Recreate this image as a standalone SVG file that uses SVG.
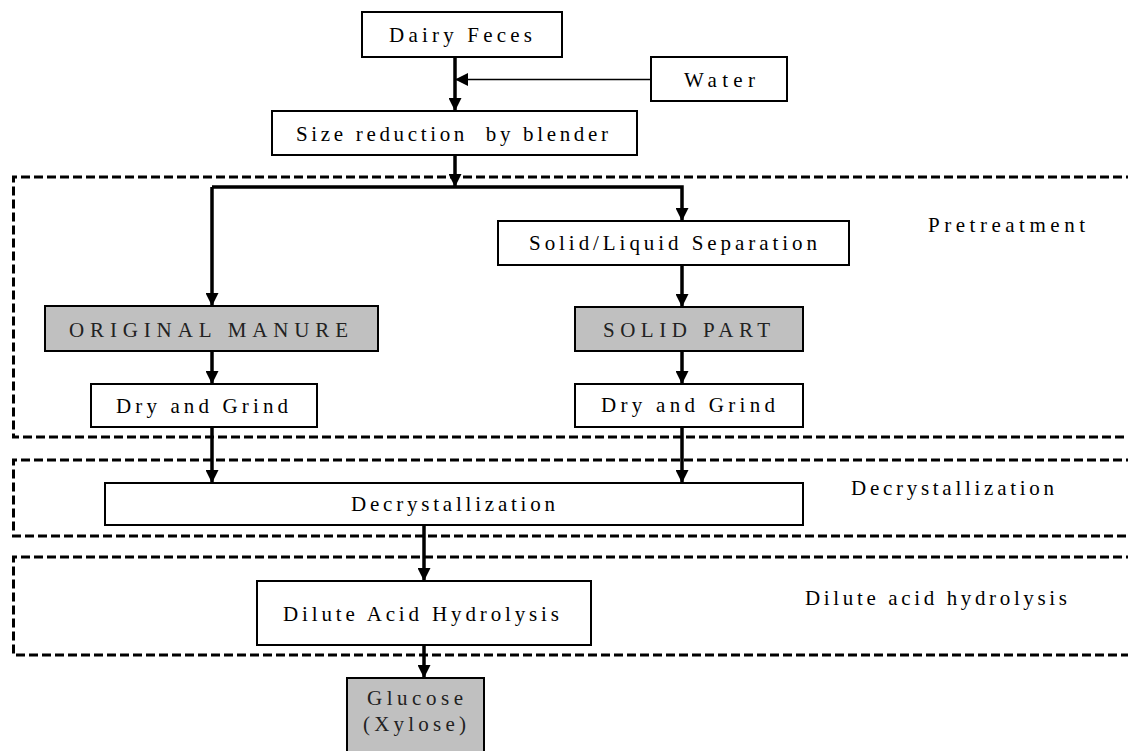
<svg xmlns="http://www.w3.org/2000/svg" width="1128" height="751" viewBox="0 0 1128 751">
<style>
.box{fill:#fff;stroke:#000;stroke-width:2}
.gray{fill:#c0c0c0;stroke:#000;stroke-width:2}
.t{font-family:"Liberation Serif","Times New Roman",serif;font-size:21px;fill:#000}
.gt{fill:#222}
.zone{fill:none;stroke:#000;stroke-width:3;stroke-dasharray:9,4}
.c{fill:none;stroke:#000;stroke-width:3.5}
.thin{fill:none;stroke:#000;stroke-width:1.6}
</style>
<defs>
<marker id="ah" viewBox="0 0 10 10" refX="10" refY="5" markerUnits="userSpaceOnUse" markerWidth="13" markerHeight="13" orient="auto">
<path d="M0,0 L10,5 L0,10 Z" fill="#000"/>
</marker>
</defs>
<rect width="1128" height="751" fill="#fff"/>
<g id="zones">
<path class="zone" d="M1135,177 H13.5 V437 H1135"/>
<path class="zone" d="M1135,460 H13.5 V536 H1135"/>
<path class="zone" d="M1135,557 H13.5 V655 H1135"/>
<text class="t" x="928" y="232" textLength="157" lengthAdjust="spacing">Pretreatment</text>
<text class="t" x="851" y="495" textLength="203" lengthAdjust="spacing">Decrystallization</text>
<text class="t" x="805" y="605" textLength="262" lengthAdjust="spacing">Dilute acid hydrolysis</text>
</g>
<g id="connectors">
<line class="c" x1="455" y1="57" x2="455" y2="111" marker-end="url(#ah)"/>
<line class="thin" x1="651" y1="79.5" x2="455" y2="79.5" marker-end="url(#ah)"/>
<line class="c" x1="455" y1="155" x2="455" y2="187" marker-end="url(#ah)"/>
<polyline class="c" points="212,187 682,187 682,221" marker-end="url(#ah)"/>
<line class="c" x1="212" y1="187" x2="212" y2="306" marker-end="url(#ah)"/>
<line class="c" x1="682" y1="265" x2="682" y2="307" marker-end="url(#ah)"/>
<line class="c" x1="212" y1="351" x2="212" y2="384" marker-end="url(#ah)"/>
<line class="c" x1="682" y1="351" x2="682" y2="384" marker-end="url(#ah)"/>
<line class="c" x1="212" y1="427" x2="212" y2="483" marker-end="url(#ah)"/>
<line class="c" x1="682" y1="427" x2="682" y2="483" marker-end="url(#ah)"/>
<line class="c" x1="424" y1="525" x2="424" y2="581" marker-end="url(#ah)"/>
<line class="c" x1="424" y1="645" x2="424" y2="678" marker-end="url(#ah)"/>
</g>
<g id="dairy">
<rect class="box" x="362" y="12" width="200" height="45"/>
<text class="t" x="389" y="42" textLength="143" lengthAdjust="spacing">Dairy Feces</text>
</g>
<g id="water">
<rect class="box" x="651" y="57" width="136" height="44"/>
<text class="t" x="684" y="87" textLength="71" lengthAdjust="spacing">Water</text>
</g>
<g id="size">
<rect class="box" x="272" y="111" width="365" height="44"/>
<text class="t" x="296" y="141" textLength="312" lengthAdjust="spacing" xml:space="preserve">Size reduction  by blender</text>
</g>
<g id="separation">
<rect class="box" x="498" y="221" width="351" height="44"/>
<text class="t" x="529" y="250" textLength="288" lengthAdjust="spacing">Solid/Liquid Separation</text>
</g>
<g id="original">
<rect class="gray" x="45" y="306" width="333" height="45"/>
<text class="t gt" x="69" y="337" textLength="279" lengthAdjust="spacing">ORIGINAL MANURE</text>
</g>
<g id="solid">
<rect class="gray" x="575" y="307" width="228" height="44"/>
<text class="t gt" x="603" y="337" textLength="167" lengthAdjust="spacing">SOLID PART</text>
</g>
<g id="dry1">
<rect class="box" x="91" y="384" width="226" height="43"/>
<text class="t" x="116" y="413" textLength="172" lengthAdjust="spacing">Dry and Grind</text>
</g>
<g id="dry2">
<rect class="box" x="575" y="384" width="228" height="43"/>
<text class="t" x="601" y="412" textLength="174" lengthAdjust="spacing">Dry and Grind</text>
</g>
<g id="decryst">
<rect class="box" x="105" y="483" width="698" height="42"/>
<text class="t" x="351" y="511" textLength="204" lengthAdjust="spacing">Decrystallization</text>
</g>
<g id="dilute">
<rect class="box" x="257" y="581" width="334" height="64"/>
<text class="t" x="283" y="621" textLength="276" lengthAdjust="spacing">Dilute Acid Hydrolysis</text>
</g>
<g id="glucose">
<rect class="gray" x="347" y="678" width="137" height="85"/>
<text class="t gt" x="367" y="705" textLength="96" lengthAdjust="spacing">Glucose</text>
<text class="t gt" x="363" y="731" textLength="103" lengthAdjust="spacing">(Xylose)</text>
</g>
</svg>
